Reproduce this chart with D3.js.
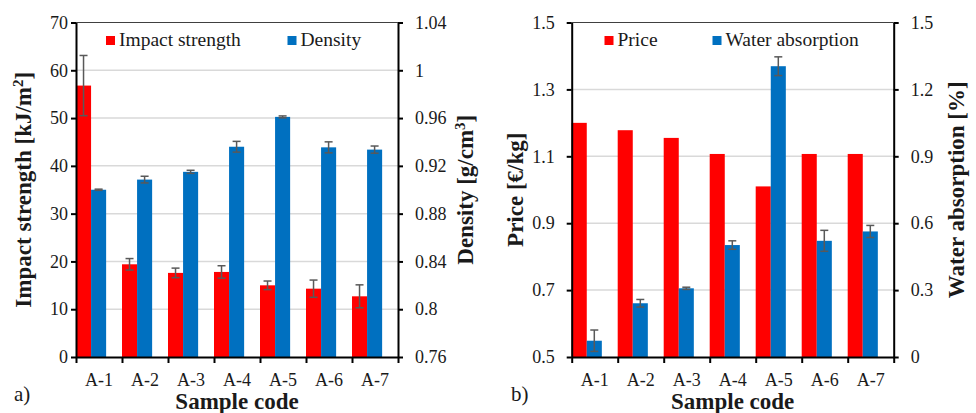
<!DOCTYPE html>
<html>
<head>
<meta charset="utf-8">
<script src="https://cdn.jsdelivr.net/npm/d3@7"></script>
<style>
  body { margin: 0; background: #fff; }
  svg text { font-family: "Times New Roman", "Liberation Serif", Tinos, "DejaVu Serif", serif; fill: #1a1a1a; }
  .domain, .tick line { stroke: #000; stroke-width: 2px; }
</style>
</head>
<body>
<script>
// data
const categories = ["A-1", "A-2", "A-3", "A-4", "A-5", "A-6", "A-7"];
const impactStrength = [56.8, 19.4, 17.6, 17.8, 15.0, 14.3, 12.7];
const impactErr = [6.3, 1.2, 1.0, 1.3, 0.9, 1.8, 2.4];
const density = [0.900, 0.9085, 0.915, 0.936, 0.961, 0.9355, 0.9336];
const densityErr = [0.0005, 0.0028, 0.0013, 0.0045, 0.0008, 0.0046, 0.003];
const price = [1.20, 1.178, 1.155, 1.107, 1.01, 1.107, 1.107];
const waterAbs = [0.073, 0.241, 0.308, 0.502, 1.304, 0.521, 0.563];
const waterAbsErr = [0.048, 0.017, 0.005, 0.019, 0.042, 0.047, 0.027];

const impactTicks = [0, 10, 20, 30, 40, 50, 60, 70];
const densityTicks = [0.76, 0.8, 0.84, 0.88, 0.92, 0.96, 1, 1.04];
const priceTicks = [0.5, 0.7, 0.9, 1.1, 1.3, 1.5];
const waterTicks = [0, 0.3, 0.6, 0.9, 1.2, 1.5];

const RED = "#ff0000", BLUE = "#0070c0";
const FONT = "'Times New Roman', 'Liberation Serif', Tinos, 'DejaVu Serif', serif";

let svg = d3.select("body").append("svg")
    .attr("width", 976)
    .attr("height", 413)
    .attr("font-family", FONT);

function drawPanel(p) {
  let g = svg.append("g");

  let x = d3.scaleBand().domain(categories).range([p.left, p.right]);
  let xb = d3.scaleLinear().domain([0, categories.length]).range([p.left, p.right]);
  // two bars sit at the left of each category slot
  let sub = d3.scaleBand().domain([0, 1]).range([0, x.bandwidth() * 0.655]);

  let yL = d3.scaleLinear().domain(d3.extent(p.leftTicks)).range([p.bottom, p.top]);
  let yR = d3.scaleLinear().domain(d3.extent(p.rightTicks)).range([p.bottom, p.top]);

  // gridlines
  g.selectAll(".grid")
    .data(p.leftTicks.slice(1, -1))
    .enter().append("line")
    .attr("x1", p.left).attr("x2", p.right)
    .attr("y1", (d) => yL(d)).attr("y2", (d) => yL(d))
    .attr("stroke", "#d9d9d9")
    .attr("stroke-width", 1.5);
  // top border of the plot
  g.append("line")
    .attr("x1", p.left).attr("x2", p.right)
    .attr("y1", p.top).attr("y2", p.top)
    .attr("stroke", "#404040")
    .attr("stroke-width", 1);

  // bars
  let series = [
    { vals: p.leftVals, err: p.leftErr, y: yL, color: RED, k: 0 },
    { vals: p.rightVals, err: p.rightErr, y: yR, color: BLUE, k: 1 }
  ];
  series.forEach((s) => {
    g.selectAll(null)
      .data(s.vals)
      .enter().append("rect")
      .attr("x", (d, i) => x(categories[i]) + sub(s.k))
      .attr("width", sub.bandwidth())
      .attr("y", (d) => s.y(d))
      .attr("height", (d) => p.bottom - s.y(d))
      .attr("fill", s.color);
  });

  // error bars
  series.forEach((s) => {
    if (!s.err) return;
    let eb = g.selectAll(null)
      .data(s.vals)
      .enter().append("g")
      .attr("stroke", "#595959")
      .attr("stroke-width", 1.5);
    let cx = (d, i) => x(categories[i]) + sub(s.k) + sub.bandwidth() / 2;
    eb.append("line")
      .attr("x1", cx).attr("x2", cx)
      .attr("y1", (d, i) => s.y(d - s.err[i]))
      .attr("y2", (d, i) => s.y(d + s.err[i]));
    [-1, 1].forEach((sg) => {
      eb.append("line")
        .attr("x1", (d, i) => cx(d, i) - 4).attr("x2", (d, i) => cx(d, i) + 4)
        .attr("y1", (d, i) => s.y(d + sg * s.err[i]))
        .attr("y2", (d, i) => s.y(d + sg * s.err[i]));
    });
  });

  // axes
  let fixFont = (sel) => sel.attr("font-family", FONT).attr("font-size", 18);
  g.append("g")
    .attr("transform", "translate(" + p.left + ",0)")
    .call(d3.axisLeft(yL).tickValues(p.leftTicks).tickSize(5).tickSizeOuter(0)
      .tickPadding(p.leftPad).tickFormat(d3.format("")))
    .call(fixFont);
  g.append("g")
    .attr("transform", "translate(" + p.right + ",0)")
    .call(d3.axisRight(yR).tickValues(p.rightTicks).tickSize(5).tickSizeOuter(0)
      .tickPadding(p.rightPad).tickFormat(d3.format("")))
    .call(fixFont);
  g.append("g")
    .attr("transform", "translate(0," + p.bottom + ")")
    .call(d3.axisBottom(xb).tickValues(d3.range(categories.length + 1))
      .tickSize(6).tickSizeOuter(0).tickFormat(""));
  let xl = g.append("g")
    .attr("transform", "translate(0," + p.bottom + ")")
    .call(d3.axisBottom(x).tickSize(0).tickPadding(16))
    .call(fixFont);
  xl.select(".domain").remove();

  // axis titles
  let title = (tx, lines) => {
    let t = g.append("text")
      .attr("transform", "translate(" + tx + "," + (p.top + p.bottom) / 2 + ") rotate(-90)")
      .attr("text-anchor", "middle")
      .attr("dy", "0.35em")
      .style("font-size", "23px")
      .style("font-weight", "bold");
    lines.forEach((l) => {
      let ts = t.append("tspan").text(l.t);
      if (l.sup) ts.attr("baseline-shift", "super").style("font-size", "15px");
    });
  };
  title(p.leftTitleX, p.leftTitle);
  title(p.rightTitleX, p.rightTitle);

  g.append("text")
    .attr("x", (p.left + p.right) / 2)
    .attr("y", 409)
    .attr("text-anchor", "middle")
    .style("font-size", "23px")
    .style("font-weight", "bold")
    .text("Sample code");

  g.append("text")
    .attr("x", p.labelX)
    .attr("y", 401)
    .style("font-size", "21px")
    .text(p.label);

  // legend
  p.legend.forEach((l, i) => {
    g.append("rect")
      .attr("x", l.x).attr("y", 36)
      .attr("width", 9).attr("height", 9)
      .attr("fill", i === 0 ? RED : BLUE);
    g.append("text")
      .attr("x", l.x + 13).attr("y", 46)
      .style("font-size", "19.5px")
      .text(l.name);
  });
}

drawPanel({
  left: 76, right: 398, top: 22.5, bottom: 357,
  leftTicks: impactTicks, rightTicks: densityTicks,
  leftVals: impactStrength, leftErr: impactErr,
  rightVals: density, rightErr: densityErr,
  leftPad: 3, rightPad: 12,
  leftTitleX: 23, rightTitleX: 465,
  leftTitle: [{ t: "Impact strength [kJ/m" }, { t: "2", sup: true }, { t: "]" }],
  rightTitle: [{ t: "Density [g/cm" }, { t: "3", sup: true }, { t: "]" }],
  label: "a)", labelX: 14,
  legend: [{ name: "Impact strength", x: 106 }, { name: "Density", x: 287.5 }]
});

drawPanel({
  left: 571.7, right: 893.7, top: 22.5, bottom: 357,
  leftTicks: priceTicks, rightTicks: waterTicks,
  leftVals: price, leftErr: null,
  rightVals: waterAbs, rightErr: waterAbsErr,
  leftPad: 12, rightPad: 12,
  leftTitleX: 515, rightTitleX: 956,
  leftTitle: [{ t: "Price [€/kg]" }],
  rightTitle: [{ t: "Water absorption [%]" }],
  label: "b)", labelX: 511,
  legend: [{ name: "Price", x: 604.5 }, { name: "Water absorption", x: 712.5 }]
});
</script>
</body>
</html>
